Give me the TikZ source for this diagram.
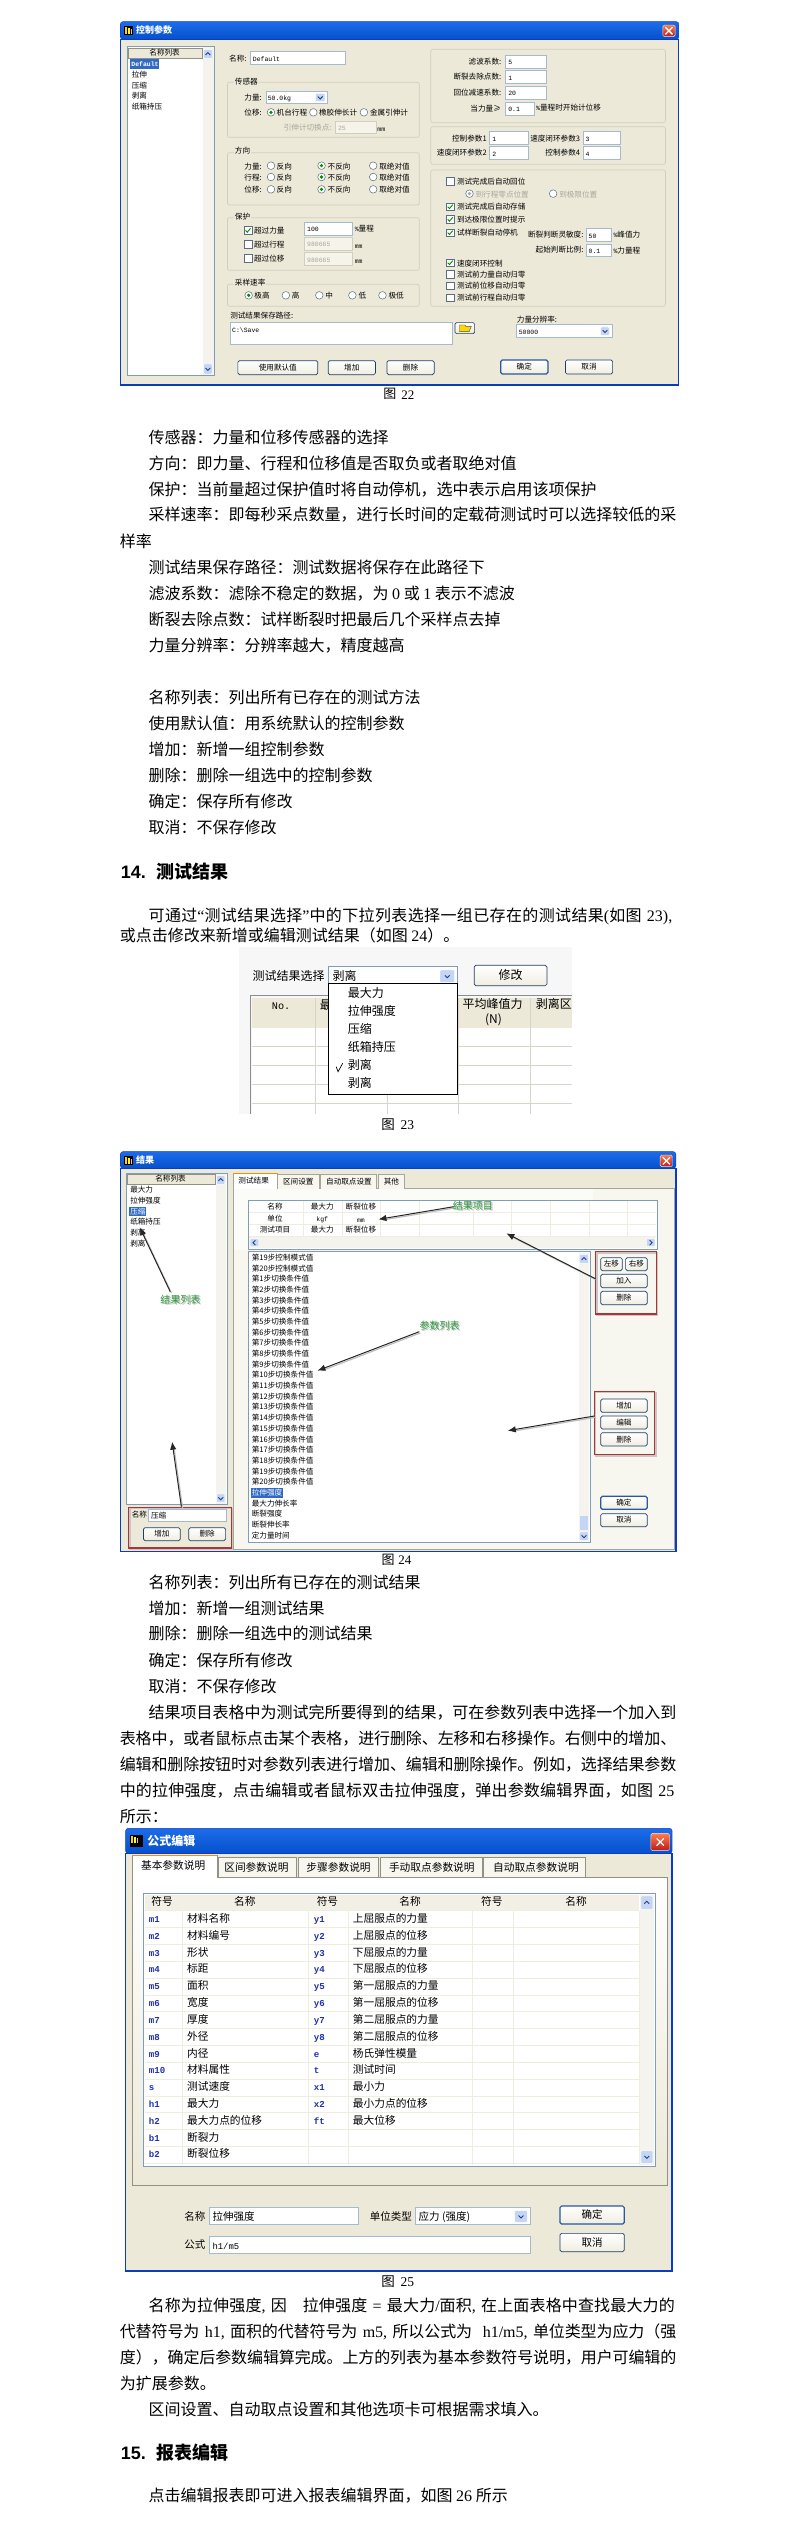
\documentclass[tikz,border=0pt]{standalone}
\usepackage{fontspec}
\setmainfont{Noto Sans CJK SC}
\newfontfamily\latf{Liberation Serif}
\newfontfamily\monf[Scale=0.85]{Liberation Mono}
\newfontfamily\sanf{Liberation Sans}
\usetikzlibrary{arrows.meta}
\XeTeXlinebreaklocale "zh"
\XeTeXlinebreakskip=0pt plus 3pt minus .6pt
\definecolor{face}{HTML}{ECE9D8}
\definecolor{xpa}{HTML}{1C6CEA}
\definecolor{xpb}{HTML}{0650CC}
\definecolor{xpf}{HTML}{0A3CC0}
\definecolor{sel}{HTML}{316AC5}
\definecolor{bdr}{HTML}{7F9DB9}
\definecolor{grpc}{HTML}{D0CFBE}
\definecolor{dis}{HTML}{A8A79C}
\definecolor{btnb}{HTML}{1F3E66}
\definecolor{scr}{HTML}{F4F3EE}
\definecolor{arw}{HTML}{C5D5F5}
\definecolor{arwd}{HTML}{21407A}
\definecolor{redb}{HTML}{B03232}
\definecolor{grn}{HTML}{2E9E3E}
\definecolor{grid}{HTML}{EFEDE0}
\definecolor{symb}{HTML}{2030B0}
\tikzset{za/.style={x=.37175pt,y=-.33333pt},zb/.style={x=.38462pt,y=-.33333pt}}
\newcount\tnn
\def\fs{10}\def\ys{3}\def\xs{2.6}
\newcommand\TXT[4]{\global\advance\tnn by 1
 \pgfmathsetmacro\yb{#3+0.36*\fs*\ys}
 \node[anchor=#1,inner sep=0pt,font=\fontsize{\fs}{\fs}\selectfont] (t\the\tnn) at (#2,\yb) {#4};}
\newcommand\TL[3]{\TXT{base west}{#1}{#2}{#3}}
\newcommand\TC[3]{\TXT{base}{#1}{#2}{#3}}
\newcommand\TR[3]{\TXT{base east}{#1}{#2}{#3}}
\newcommand\JL[4]{\global\advance\tnn by 1
 \pgfmathsetmacro\yb{#2+0.36*\fs*\ys}
 \pgfmathsetmacro\jw{(#3-#1)/\xs}
 \node[anchor=base west,inner sep=0pt,text width=\jw pt,font=\fontsize{\fs}{\fs}\selectfont] (t\the\tnn) at (#1,\yb) {\parindent0pt\parfillskip=0pt\leavevmode #4\par};}
\newcommand\lt[1]{{\latf #1}}
\newcommand\mm[1]{{\monf #1}}
\newcommand\winf[5]{% x1 y1 x2 y2 titlebottom
 \fill[face] (#1,#5) rectangle (#3,#4);
 \draw[xpf,line width=1.4pt] (#1,#5) rectangle (#3,#4);
 \path[rounded corners=2.5pt,top color=xpa,bottom color=xpb,draw=xpf] (#1,#5) -- (#1,#2) -- (#3,#2) -- (#3,#5) -- cycle;}
\newcommand\appicon[4]{\fill[black] (#1,#2) rectangle (#3,#4);
 \fill[yellow!70!orange] (#1,#2) +(1pt,-1pt) rectangle +(2.6pt,-8pt);
 \fill[yellow!80!white] (#1,#2) +(4pt,-2pt) rectangle +(5.4pt,-8pt);
 \fill[yellow!70!orange] (#1,#2) +(6.6pt,-3pt) rectangle +(8pt,-8pt);}
\newcommand\closeb[4]{\path[rounded corners=1.5pt,top color=red!45!orange!70,bottom color=red!70!black!90,draw=white!85!gray] (#1,#2) rectangle (#3,#4);
 \pgfmathsetmacro\cx{(#1+#3)/2}\pgfmathsetmacro\cy{(#2+#4)/2}
 \draw[white,line width=1.3pt] (\cx,\cy) +(-3.6pt,-3.6pt) -- +(3.6pt,3.6pt) (\cx,\cy) +(-3.6pt,3.6pt) -- +(3.6pt,-3.6pt);}
\newcommand\pushb[5]{\path[rounded corners=1.6pt,top color=white,bottom color=face!80!white,draw=btnb,line width=.7pt] (#1,#2) rectangle (#3,#4);
 \pgfmathsetmacro\cxx{(#1+#3)/2}\pgfmathsetmacro\cyy{(#2+#4)/2}\TC{\cxx}{\cyy}{#5}}
\newcommand\pushd[5]{\path[rounded corners=1.6pt,top color=white,bottom color=face!80!white,draw=sel!60!btnb,line width=1.2pt] (#1,#2) rectangle (#3,#4);
 \pgfmathsetmacro\cxx{(#1+#3)/2}\pgfmathsetmacro\cyy{(#2+#4)/2}\TC{\cxx}{\cyy}{#5}}
\newcommand\editbox[4]{\draw[bdr!70!white,fill=white,line width=.6pt] (#1,#2) rectangle (#3,#4);}
\newcommand\editdis[4]{\draw[grpc,fill=face!55!white,line width=.6pt] (#1,#2) rectangle (#3,#4);}
\newcommand\grp[4]{\draw[grpc,rounded corners=2pt,line width=.7pt] (#1,#2) rectangle (#3,#4);}
\newcommand\glab[3]{\global\advance\tnn by 1
 \node[anchor=west,inner sep=1pt,fill=face,font=\fontsize{\fs}{\fs}\selectfont] (t\the\tnn) at (#1,#2) {#3};}
\newcommand\radbtn[2]{\draw[bdr!70!black,fill=white,line width=.5pt] (#1,#2) circle[radius=3.8pt];}
\newcommand\radsel[2]{\radbtn{#1}{#2}\fill[green!55!black] (#1,#2) circle[radius=1.8pt];}
\newcommand\ckbox[2]{\draw[bdr!70!black,fill=white,line width=.5pt] (#1,#2) +(-4pt,-3.8pt) rectangle +(4pt,3.8pt);}
\newcommand\cktick[2]{\ckbox{#1}{#2}\draw[green!55!black,line width=.9pt] (#1,#2) +(-2.4pt,0pt) -- +(-.7pt,-1.9pt) -- +(2.6pt,2pt);}
% arrow buttons: x1 y1 x2 y2 and direction
\newcommand\arbg[4]{\path[rounded corners=1pt,fill=arw,draw=white] (#1,#2) rectangle (#3,#4);
 \pgfmathsetmacro\cx{(#1+#3)/2}\pgfmathsetmacro\cy{(#2+#4)/2}}
\newcommand\ardn[4]{\arbg{#1}{#2}{#3}{#4}\draw[arwd,line width=.9pt] (\cx,\cy) +(-2.4pt,1pt) -- +(0pt,-1.4pt) -- +(2.4pt,1pt);}
\newcommand\arup[4]{\arbg{#1}{#2}{#3}{#4}\draw[arwd,line width=.9pt] (\cx,\cy) +(-2.4pt,-1pt) -- +(0pt,1.4pt) -- +(2.4pt,-1pt);}
\newcommand\arlf[4]{\arbg{#1}{#2}{#3}{#4}\draw[arwd,line width=.9pt] (\cx,\cy) +(1pt,2.4pt) -- +(-1.4pt,0pt) -- +(1pt,-2.4pt);}
\newcommand\arrt[4]{\arbg{#1}{#2}{#3}{#4}\draw[arwd,line width=.9pt] (\cx,\cy) +(-1pt,2.4pt) -- +(1.4pt,0pt) -- +(-1pt,-2.4pt);}
\newcounter{cn}
\newcommand\conn[4]{\stepcounter{cn}
 \coordinate (as\thecn) at (#1,#2); \coordinate (ae\thecn) at (#3,#4);
 \draw[black!25,line width=1.2pt,shorten >=3pt] (as\thecn) ++(1.2pt,-1.2pt) -- ([xshift=1.2pt,yshift=-1.2pt]ae\thecn);
 \draw[black!85,line width=1pt,-{Latex[length=8pt,width=6.5pt]}] (as\thecn) -- (ae\thecn);}
\newcommand\glabel[3]{\TL{#1+3}{#2+3}{\textcolor{black!30}{#3}}\TL{#1}{#2}{\textcolor{grn}{#3}}}
\newcommand\redbox[4]{\draw[black!22,line width=1.4pt] (#1,#2) ++(1.3pt,-1.3pt) rectangle ([xshift=1.3pt,yshift=-1.3pt]#3,#4);
 \draw[redb,line width=1.1pt] (#1,#2) rectangle (#3,#4);}
\begin{document}
\begin{tikzpicture}
\path[use as bounding box,fill=white] (0pt,0pt) rectangle (793pt,-2524pt);
%%%%%%%%%%%%%%%% FIG 22
\begin{scope}[za,shift={(110pt,-10pt)}]
\def\xs{2.69}\def\ys{3}\def\fs{7.6}
\winf{28}{35}{1530}{1125}{88}
\appicon{38}{48}{62}{75}
\closeb{1487}{45}{1520}{80}
\def\fs{9}\TL{70}{62}{\textcolor{white}{\bfseries 控制参数}}\def\fs{7.6}
% list
\draw[bdr,fill=white,line width=.6pt] (47,110) rectangle (280,1097);
\fill[scr] (250,112) rectangle (279,1095);
\draw[grpc!70!black,fill=face] (50,115) rectangle (247,146);
\TC{147}{128}{名称列表}
\arup{252}{118}{275}{146}\ardn{252}{1062}{275}{1092}
\fill[sel] (55,148) rectangle (132,176);
\TL{57}{161}{\textcolor{white}{\mm{\bfseries Default}}}
\TL{58}{193}{拉伸}\TL{58}{226}{压缩}\TL{58}{258}{剥离}\TL{58}{291}{纸箱持压}
% name
\TL{320}{145}{名称:}\editbox{377}{125}{632}{164}\TL{384}{147}{\mm{Default}}
% sensor
\grp{316}{217}{832}{382}\glab{333}{216}{传感器}
\TL{361}{262}{力量:}\editbox{420}{243}{584}{280}\TL{424}{263}{\mm{50.0kg}}\ardn{553}{250}{578}{275}
\TL{361}{307}{位移:}\radsel{433}{307}\TL{448}{307}{机台行程}\radbtn{547}{307}\TL{562}{307}{橡胶伸长计}\radbtn{683}{307}\TL{699}{307}{金属引伸计}
\TL{467}{352}{\textcolor{dis}{引伸计切换点:}}\editdis{607}{333}{715}{371}\TL{613}{353}{\textcolor{dis}{\mm{25}}}\TL{719}{356}{\mm{mm}}
% direction
\grp{316}{428}{832}{585}\glab{333}{421}{方向}
\foreach \yy/\lab/\yt in {467/力量/470,501/行程/502,538/位移/540}{
 \TL{361}{\yt}{\lab:}\radbtn{433}{\yy}\TL{448}{\yt}{反向}\radsel{569}{\yy}\TL{585}{\yt}{不反向}\radbtn{708}{\yy}\TL{724}{\yt}{取绝对值}}
% protect
\grp{316}{623}{832}{781}\glab{333}{621}{保护}
\cktick{371}{661}\TL{387}{662}{超过力量}\editbox{523}{637}{653}{675}\TL{530}{657}{\mm{100}}\TL{658}{656}{\mm{\%}量程}
\ckbox{371}{703}\TL{387}{704}{超过行程}\editdis{523}{683}{653}{720}\TL{530}{702}{\textcolor{dis}{\mm{980665}}}\TL{658}{707}{\mm{mm}}
\ckbox{371}{744}\TL{387}{746}{超过位移}\editdis{523}{728}{653}{766}\TL{530}{748}{\textcolor{dis}{\mm{980665}}}\TL{658}{752}{\mm{mm}}
% sampling
\grp{316}{823}{832}{889}\glab{333}{817}{采样速率}
\radsel{373}{856}\TL{388}{857}{极高}\radbtn{473}{856}\TL{489}{857}{高}\radbtn{563}{856}\TL{579}{857}{中}\radbtn{652}{856}\TL{668}{857}{低}\radbtn{733}{856}\TL{749}{857}{极低}
% path
\TL{323}{918}{测试结果保存路径:}\editbox{323}{937}{921}{1004}\TL{328}{958}{\mm{C:\textbackslash Save}}
\path[rounded corners=1.5pt,top color=white,bottom color=face,draw=btnb,line width=.6pt] (928,938) rectangle (981,971);
\fill[yellow!75!orange,draw=black!70,line width=.4pt] (940,945) -- (955,945) -- (957,949) -- (972,949) -- (966,965) -- (940,965) -- cycle;
\TL{1094}{928}{力量分辨率:}\editbox{1093}{944}{1350}{982}\TL{1099}{965}{\mm{50000}}\ardn{1320}{951}{1343}{976}
% buttons
\pushb{344}{1052}{559}{1094}{使用默认值}\pushb{587}{1052}{714}{1094}{增加}\pushb{745}{1052}{872}{1094}{删除}
\pushd{1051}{1050}{1178}{1092}{确定}\pushb{1225}{1050}{1352}{1092}{取消}
% right groups
\grp{863}{118}{1494}{338}
\TR{1053}{155}{滤波系数:}\editbox{1063}{136}{1174}{175}\TL{1071}{155}{\mm{5}}
\TR{1053}{201}{断裂去除点数:}\editbox{1063}{182}{1174}{221}\TL{1071}{202}{\mm{1}}
\TR{1053}{249}{回位减速系数:}\editbox{1063}{229}{1174}{268}\TL{1071}{249}{\mm{20}}
\TR{1052}{296}{当力量≥}\editbox{1063}{276}{1142}{317}\TL{1071}{297}{\mm{0.1}}\TL{1146}{294}{\mm{\%}量程时开始计位移}
\grp{863}{350}{1494}{463}
\TR{1014}{385}{控制参数1}\editbox{1020}{365}{1124}{404}\TL{1028}{386}{\mm{1}}
\TR{1265}{385}{速度闭环参数3}\editbox{1272}{365}{1374}{404}\TL{1279}{386}{\mm{3}}
\TR{1014}{429}{速度闭环参数2}\editbox{1020}{409}{1124}{448}\TL{1028}{430}{\mm{2}}
\TR{1265}{429}{控制参数4}\editbox{1272}{409}{1374}{448}\TL{1279}{430}{\mm{4}}
\grp{863}{480}{1494}{889}
\ckbox{915}{514}\TL{933}{515}{测试完成后自动回位}
\radbtn{967}{551}\fill[dis] (967,551) circle[radius=1.8pt];\TL{983}{553}{\textcolor{dis}{到行程零点位置}}
\radbtn{1192}{551}\TL{1208}{553}{\textcolor{dis}{到极限位置}}
\cktick{915}{590}\TL{933}{591}{测试完成后自动存储}
\cktick{915}{628}\TL{933}{629}{到达极限位置时提示}
\cktick{915}{668}\TL{933}{669}{试样断裂自动停机}
\TR{1274}{673}{断裂判断灵敏度:}\editbox{1280}{656}{1348}{694}\TL{1287}{676}{\mm{50}}\TL{1354}{675}{\mm{\%}峰值力}
\TR{1274}{720}{起始判断比例:}\editbox{1280}{703}{1348}{740}\TL{1287}{721}{\mm{0.1}}\TL{1354}{721}{\mm{\%}力量程}
\cktick{915}{758}\TL{933}{760}{速度闭环控制}
\ckbox{915}{793}\TL{933}{794}{测试前力量自动归零}
\ckbox{915}{827}\TL{933}{828}{测试前位移自动归零}
\ckbox{915}{863}\TL{933}{864}{测试前行程自动归零}
\def\fs{13}\TL{735}{1152}{图}\TL{783}{1153}{\lt{22}}
\end{scope}
%%%%%%%%%%%%%%%% BODY 1
\begin{scope}[zb,shift={(110pt,-400pt)}]
\def\xs{2.6}\def\ys{3}\def\fs{16}
\TL{100}{112}{传感器：力量和位移传感器的选择}
\TL{100}{190}{方向：即力量、行程和位移值是否取负或者取绝对值}
\TL{100}{268}{保护：当前量超过保护值时将自动停机，选中表示启用该项保护}
\JL{100}{345}{1472}{采样速率：即每秒采点数量，进行长时间的定载荷测试时可以选择较低的采}
\TL{25}{424}{样率}
\TL{100}{502}{测试结果保存路径：测试数据将保存在此路径下}
\TL{100}{580}{滤波系数：滤除不稳定的数据，为 \lt{0} 或 \lt{1} 表示不滤波}
\TL{100}{658}{断裂去除点数：试样断裂时把最后几个采样点去掉}
\TL{100}{737}{力量分辨率：分辨率越大，精度越高}
\TL{100}{892}{名称列表：列出所有已存在的测试方法}
\TL{100}{970}{使用默认值：用系统默认的控制参数}
\TL{100}{1048}{增加：新增一组控制参数}
\TL{100}{1126}{删除：删除一组选中的控制参数}
\TL{100}{1204}{确定：保存所有修改}
\TL{100}{1282}{取消：不保存修改}
\end{scope}
%%%%%%%%%%%%%%%% SECTION 14 / FIG 23
\begin{scope}[zb,shift={(110pt,-840pt)}]
\def\xs{2.6}\def\ys{3}\def\fs{18}
\TL{28}{95}{{\sanf\bfseries 14.}}\TL{120}{95}{\bfseries 测试结果}
\def\fs{16}
\JL{100}{227}{1472}{可通过\lt{“}测试结果选择\lt{”}中的下拉列表选择一组已存在的测试结果\lt{(}如图 \lt{23)}\lt{,}}
\TL{25}{287}{或点击修改来新增或编辑测试结果（如图 \lt{24}）。}
\fill[black!3] (335,322) rectangle (1202,822);
\def\fs{12}
% table
\fill[face] (370,473) rectangle (1202,563);
\fill[white] (370,563) rectangle (1202,822);
\foreach \xx in {535,720,905,1092}{\draw[grid!90!black,line width=.6pt] (\xx,473) -- (\xx,822);}
\foreach \yy in {619,676,733,790}{\draw[grid!90!black,line width=.6pt] (370,\yy) -- (1202,\yy);}
\draw[black!45,line width=.7pt] (365,822) -- (365,466) -- (1202,466);
\TC{445}{496}{\mm{No.}}\TL{545}{495}{最}\TL{916}{494}{平均峰值力}\TC{997}{537}{(N)}\TL{1107}{494}{剥离区}
\TL{370}{408}{测试结果选择}
\draw[bdr,fill=white,line width=.7pt] (568,380) rectangle (903,431);
\TL{578}{410}{剥离}\ardn{858}{390}{896}{428}
\pushb{947}{376}{1136}{437}{修改}
\draw[black,fill=white,line width=.7pt] (568,431) rectangle (903,764);
\TL{618}{461}{最大力}\TL{618}{515}{拉伸强度}\TL{618}{569}{压缩}\TL{618}{623}{纸箱持压}\TL{618}{677}{剥离}\TL{618}{731}{剥离}
\draw[black,line width=.7pt] (588,680) -- (593,695) -- (605,670);
\def\fs{13.5}\TL{705}{855}{图}\TL{755}{855}{\lt{23}}
\end{scope}
%%%%%%%%%%%%%%%% FIG 24
\begin{scope}[za,shift={(110pt,-1140pt)}]
\def\xs{2.69}\def\ys{3}\def\fs{7.6}
\winf{28}{35}{1522}{1235}{85}
\appicon{38}{48}{62}{75}
\closeb{1480}{45}{1513}{80}
\def\fs{9}\TL{70}{62}{\textcolor{white}{\bfseries 结果}}\def\fs{7.6}
% left list
\draw[bdr,fill=white,line width=.6pt] (44,100) rectangle (315,1093);
\fill[scr] (284,102) rectangle (313,1091);
\draw[grpc!70!black,fill=face] (47,103) rectangle (282,134);
\TC{163}{117}{名称列表}
\arup{287}{106}{309}{133}\ardn{287}{1062}{309}{1088}
\fill[sel] (50,200) rectangle (97,228);
\TL{54}{150}{最大力}\TL{54}{182}{拉伸强度}\TL{54}{214}{\textcolor{white}{压缩}}\TL{54}{246}{纸箱持压}\TL{54}{278}{剥离}\TL{54}{310}{剥离}
\editbox{104}{1108}{313}{1144}
\TL{58}{1124}{名称}\TL{110}{1127}{压缩}
\pushb{90}{1163}{189}{1202}{增加}\pushb{212}{1163}{311}{1202}{删除}
\redbox{50}{1102}{326}{1224}
% tab body
\draw[grpc!80!black,fill=white!60!face,line width=.6pt] (332,146) rectangle (1518,1228);
\fill[white!80!face] (334,148) rectangle (1300,330);
\draw[grpc!80!black,fill=face!40!white,line width=.5pt] (451,146) -- (451,104) -- (562,104) -- (562,146);
\draw[grpc!80!black,fill=face!40!white,line width=.5pt] (566,146) -- (566,104) -- (717,104) -- (717,146);
\draw[grpc!80!black,fill=face!40!white,line width=.5pt] (721,146) -- (721,104) -- (792,104) -- (792,146);
\path[fill=white,draw=grpc!80!black,line width=.5pt] (331,148) -- (331,100) -- (451,100) -- (451,148);
\draw[orange!90!yellow,line width=1pt] (331,100) -- (451,100);
\TL{345}{122}{测试结果}\TL{465}{125}{区间设置}\TL{581}{125}{自动取点设置}\TL{736}{125}{其他}
% result table
\draw[bdr,fill=white,line width=.7pt] (371,181) rectangle (1471,327);
\foreach \xx in {520,625,728,832,976,1080,1184,1288,1391}{\draw[grid,line width=.6pt] (\xx,184) -- (\xx,290);}
\foreach \yy in {217,254,290}{\draw[grid,line width=.6pt] (374,\yy) -- (1468,\yy);}
\fill[scr] (375,292) rectangle (1467,323);
\arlf{377}{296}{400}{320}\arrt{1443}{296}{1466}{320}
\TC{444}{199}{名称}\TC{571}{199}{最大力}\TC{675}{199}{断裂位移}
\TC{444}{236}{单位}\TC{571}{236}{\mm{kgf}}\TC{675}{238}{\mm{mm}}
\TC{444}{270}{测试项目}\TC{571}{270}{最大力}\TC{675}{270}{断裂位移}
% param list
\draw[bdr,fill=white,line width=.7pt] (371,335) rectangle (1291,1207);
\fill[scr] (1262,340) rectangle (1288,1204);
\arup{1263}{343}{1287}{370}\ardn{1263}{1176}{1287}{1202}
\fill[arw] (1263,1128) rectangle (1287,1170);
\fill[sel] (378,1044) rectangle (466,1074);
\foreach \t [count=\r from 0] in {第19步控制模式值,第20步控制模式值,第1步切换条件值,第2步切换条件值,第3步切换条件值,第4步切换条件值,第5步切换条件值,第6步切换条件值,第7步切换条件值,第8步切换条件值,第9步切换条件值,第10步切换条件值,第11步切换条件值,第12步切换条件值,第13步切换条件值,第14步切换条件值,第15步切换条件值,第16步切换条件值,第17步切换条件值,第18步切换条件值,第19步切换条件值,第20步切换条件值,\textcolor{white}{拉伸强度},最大力伸长率,断裂强度,断裂伸长率,定力量时间}{
 \pgfmathsetmacro\yr{353+32.05*\r}\TL{381}{\yr}{\t}}
% right buttons
\pushb{1320}{353}{1378}{392}{左移}\pushb{1387}{353}{1445}{392}{右移}\pushb{1320}{403}{1445}{443}{加入}\pushb{1320}{454}{1445}{494}{删除}
\redbox{1307}{335}{1470}{522}
\pushb{1320}{777}{1445}{817}{增加}\pushb{1320}{828}{1445}{867}{编辑}\pushb{1320}{878}{1445}{918}{删除}
\redbox{1303}{754}{1465}{944}
\pushd{1320}{1069}{1445}{1108}{确定}\pushb{1320}{1121}{1445}{1160}{取消}
% arrows and labels
\conn{162}{455}{80}{262}
\conn{192}{1100}{167}{905}
\conn{925}{200}{722}{238}
\conn{1307}{417}{1066}{280}
\conn{832}{575}{558}{692}
\conn{1303}{828}{1070}{872}
\def\fs{10}
\glabel{135}{481}{结果列表}\glabel{922}{197}{结果项目}\glabel{832}{558}{参数列表}
\def\fs{13}\TL{730}{1260}{图}\TL{775}{1260}{\lt{24}}
\end{scope}
%%%%%%%%%%%%%%%% BODY 2
\begin{scope}[zb,shift={(110pt,-1560pt)}]
\def\xs{2.6}\def\ys{3}\def\fs{16}
\TL{100}{67}{名称列表：列出所有已存在的测试结果}
\TL{100}{145}{增加：新增一组测试结果}
\TL{100}{222}{删除：删除一组选中的测试结果}
\TL{100}{301}{确定：保存所有修改}
\TL{100}{379}{取消：不保存修改}
\JL{100}{457}{1472}{结果项目表格中为测试完所要得到的结果，可在参数列表中选择一个加入到}
\JL{25}{535}{1472}{表格中，或者鼠标点击某个表格，进行删除、左移和右移操作。右侧中的增加、}
\JL{25}{613}{1472}{编辑和删除按钮时对参数列表进行增加、编辑和删除操作。例如，选择结果参数}
\JL{25}{692}{1472}{中的拉伸强度，点击编辑或者鼠标双击拉伸强度，弹出参数编辑界面，如图 \lt{25}}
\TL{25}{770}{所示：}
\end{scope}
%%%%%%%%%%%%%%%% FIG 25
\begin{scope}[za,shift={(110pt,-1820pt)}]
\def\xs{2.69}\def\ys{3}\def\fs{10.7}
\winf{42}{25}{1512}{1353}{100}
\appicon{55}{45}{90}{80}
\closeb{1455}{40}{1505}{92}
\def\fs{12}\TL{100}{64}{\textcolor{white}{\bfseries 公式编辑}}\def\fs{10.7}
\path[top color=white,bottom color=face,draw=grpc!70!black,line width=.6pt] (60,172) rectangle (1498,1095);
\draw[grpc!70!black,fill=face!40!white,line width=.5pt] (290,172) -- (290,113) -- (501,113) -- (501,172);
\draw[grpc!70!black,fill=face!40!white,line width=.5pt] (507,172) -- (507,113) -- (722,113) -- (722,172);
\draw[grpc!70!black,fill=face!40!white,line width=.5pt] (728,172) -- (728,113) -- (1000,113) -- (1000,172);
\draw[grpc!70!black,fill=face!40!white,line width=.5pt] (1005,172) -- (1005,113) -- (1279,113) -- (1279,172);
\path[fill=white,draw=grpc!70!black,line width=.5pt] (60,174) -- (60,107) -- (289,107) -- (289,174);
\draw[orange!90!yellow,line width=1pt] (60,107) -- (289,107);
\TL{83}{138}{基本参数说明}\TL{307}{143}{区间参数说明}\TL{528}{143}{步骤参数说明}\TL{750}{143}{手动取点参数说明}\TL{1030}{143}{自动取点参数说明}
\draw[bdr,fill=white,line width=.8pt] (90,220) rectangle (1468,1040);
\fill[face!70!white] (95,225) rectangle (1423,272);
\fill[scr] (1425,225) rectangle (1463,1035);
\arup{1428}{228}{1460}{268}\ardn{1428}{992}{1460}{1030}
\foreach \xx in {195,535,640,976,1084,1423}{\draw[grid,line width=.8pt] (\xx,272) -- (\xx,1035);}
\foreach \yy in {272,322,373,424,474,525,575,626,677,727,778,828,878,929,979,1030}{\draw[grid,line width=.8pt] (95,\yy) -- (1423,\yy);}
\TC{140}{244}{符号}\TC{363}{244}{名称}\TC{585}{244}{符号}\TC{807}{244}{名称}\TC{1027}{244}{符号}\TC{1254}{244}{名称}
\foreach \a/\b/\c/\d [count=\r from 0] in {m1/材料名称/y1/上屈服点的力量,m2/材料编号/y2/上屈服点的位移,m3/形状/y3/下屈服点的力量,m4/标距/y4/下屈服点的位移,m5/面积/y5/第一屈服点的力量,m6/宽度/y6/第一屈服点的位移,m7/厚度/y7/第二屈服点的力量,m8/外径/y8/第二屈服点的位移,m9/内径/e/杨氏弹性模量,m10/材料属性/t/测试时间,s/测试速度/x1/最小力,h1/最大力/x2/最小力点的位移,h2/最大力点的位移/ft/最大位移,b1/断裂力/{}/{},b2/断裂位移/{}/{}}{
 \pgfmathsetmacro\yr{296+50.45*\r}
 \TL{104}{\yr}{\textcolor{symb}{\mm{\bfseries\a}}}\TL{207}{\yr}{\b}
 \TL{548}{\yr}{\textcolor{symb}{\mm{\bfseries\c}}}\TL{653}{\yr}{\d}}
\end{scope}
%%%%%%%%%%%%%%%% FIG 25 bottom + BODY 3
\begin{scope}[zb,shift={(110pt,-2170pt)}]
\def\xs{2.6}\def\ys{3}\def\fs{10.5}
\TL{193}{140}{名称}\editbox{258}{113}{645}{164}\TL{266}{141}{拉伸强度}
\TL{675}{141}{单位类型}\editbox{795}{113}{1092}{164}\TL{802}{141}{应力 (强度)}\ardn{1052}{122}{1085}{157}
\pushd{1170}{108}{1337}{162}{确定}\pushb{1170}{190}{1337}{245}{取消}
\TL{193}{224}{公式}\editbox{258}{198}{1092}{250}\TL{266}{227}{\mm{h1/m5}}
\def\fs{13.5}\TL{705}{335}{图}\TL{755}{335}{\lt{25}}
\def\fs{16}
\JL{100}{407}{1472}{名称为拉伸强度\lt{, }因\ \ \ 拉伸强度\ \lt{=}\ 最大力\lt{/}面积\lt{, }在上面表格中查找最大力的}
\JL{25}{485}{1472}{代替符号为 \lt{h1, }面积的代替符号为 \lt{m5, }所以公式为\ \ \lt{h1/m5, }单位类型为应力（强}
\JL{25}{563}{1472}{度），确定后参数编辑算完成。上方的列表为基本参数符号说明，用户可编辑的}
\TL{25}{641}{为扩展参数。}
\TL{100}{718}{区间设置、自动取点设置和其他选项卡可根据需求填入。}
\def\fs{18}\TL{28}{850}{{\sanf\bfseries 15.}}\TL{120}{850}{\bfseries 报表编辑}
\def\fs{16}\TL{100}{976}{点击编辑报表即可进入报表编辑界面，如图 \lt{26} 所示}
\end{scope}
\end{tikzpicture}
\end{document}
